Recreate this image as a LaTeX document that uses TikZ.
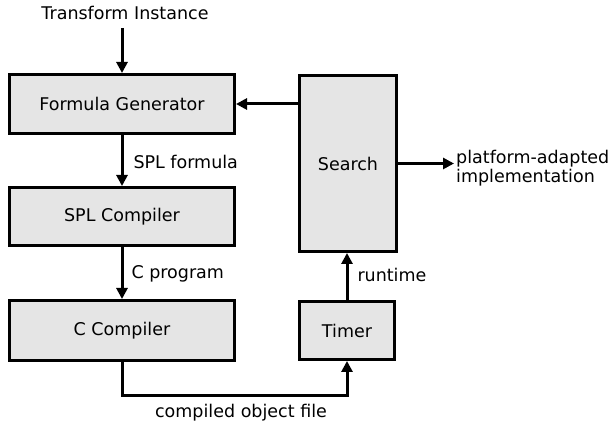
\documentclass[tikz,border=0pt]{standalone}
\usepackage{fontspec}
\setmainfont{DejaVu Sans}
\usetikzlibrary{arrows.meta,positioning}
\definecolor{boxfill}{HTML}{E5E5E5}
\begin{document}
\begin{tikzpicture}[x=1pt,y=-1pt,
  blk/.style={draw=black,line width=3pt,fill=boxfill,rectangle,inner sep=0pt,font=\fontsize{17.5}{19}\selectfont},
  lbl/.style={inner sep=0pt,font=\fontsize{17.5}{19}\selectfont},
  conn/.style={line width=3pt,-{Triangle[length=11pt,width=11pt]}}]
\useasboundingbox (0,0) rectangle (608,427);
\node[lbl] (ti) at (125,13) {Transform Instance};
\node[blk,minimum width=225pt,minimum height=59pt] (fg) at (122,104) {Formula Generator};
\node[blk,minimum width=225pt,minimum height=58pt] (spl) at (122,216.5) {SPL Compiler};
\node[blk,minimum width=225pt,minimum height=60pt] (cc) at (122,330.5) {C Compiler};
\node[blk,minimum width=97pt,minimum height=176pt] (search) at (348,163.5) {Search};
\node[blk,minimum width=95pt,minimum height=58pt] (timer) at (347,330.5) {Timer};
\coordinate (ti0) at (122,28);
\draw[conn] (ti0) -- (fg.north);
\draw[conn] (fg.south) -- node[lbl,right=10pt,yshift=-1pt] (l1) {SPL formula} (spl.north);
\draw[conn] (spl.south) -- node[lbl,right=8pt,yshift=-1pt] (l2) {C program} (cc.north);
\coordinate (b1) at (122,396);
\coordinate (b2) at (347,396);
\draw[conn] (cc.south) -- (b1) -- (b2) -- (timer.south);
\node[lbl] (l3) at (241,413) {compiled object file};
\draw[conn] (timer.north) -- node[lbl,right=9pt,yshift=2pt] (l4) {runtime} (search.south -| timer.north);
\draw[conn] (fg.east -| search.west) -- (fg.east);
\coordinate (out) at (454,163.5);
\draw[conn] (search.east) -- (out);
\node[lbl,anchor=west,align=left] (l5) at (456,168) {platform-adapted\\implementation};
\end{tikzpicture}
\end{document}
